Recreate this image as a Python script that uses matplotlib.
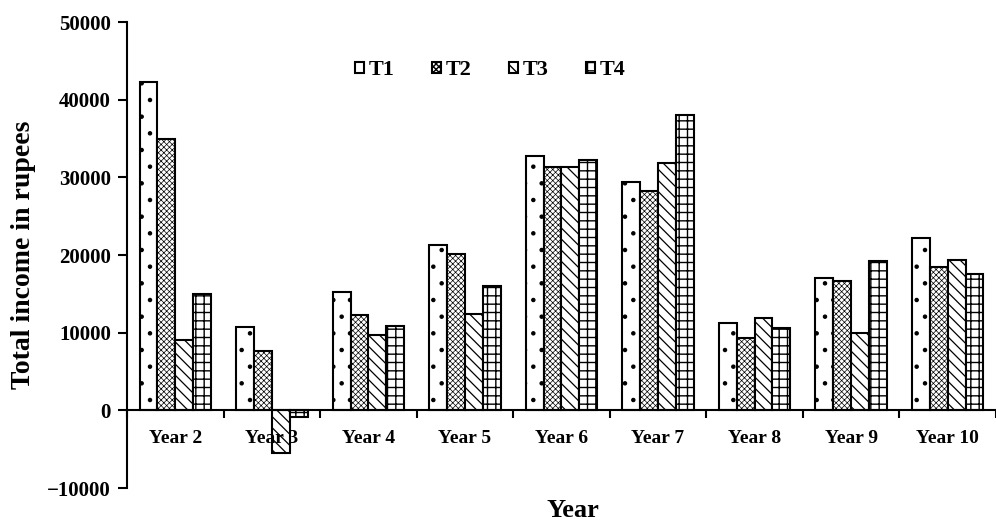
import matplotlib
matplotlib.use("Agg")
import matplotlib.pyplot as plt
import numpy as np

plt.rcParams['font.family'] = ['Liberation Serif', 'DejaVu Serif']
plt.rcParams['hatch.linewidth'] = 0.8

years = ["Year 2", "Year 3", "Year 4", "Year 5", "Year 6", "Year 7", "Year 8", "Year 9", "Year 10"]
t1 = [42300, 10800, 15200, 21300, 32800, 29400, 11200, 17000, 22200]
t2 = [35000, 7700, 12300, 20100, 31300, 28300, 9300, 16600, 18400]
t3 = [9000, -5500, 9700, 12400, 31400, 31800, 11900, 9900, 19400]
t4 = [15000, -800, 10900, 16000, 32300, 38000, 10600, 19300, 17600]
names = ["T1", "T2", "T3", "T4"]
hatches = ['.', 'xxxxxx', '\\\\\\', '++']
hatch_lw = [0.8, 0.5, 0.9, 1.0]

fig = plt.figure(figsize=(9.96, 5.27), dpi=100)
ax = fig.add_axes([0.1275, 0.074, 0.8725, 0.884])

x = np.arange(len(years))
w = 0.185
series = [t1, t2, t3, t4]
for i in range(4):
    plt.rcParams['hatch.linewidth'] = hatch_lw[i]
    bars = ax.bar(x + (i - 1.5) * w, series[i], w, color='white', edgecolor='black',
                  hatch=hatches[i], linewidth=1.5, label=names[i])
    for b in bars:
        if hasattr(b, 'set_hatch_linewidth'):
            b.set_hatch_linewidth(hatch_lw[i])

ax.set_xlim(-0.5, 8.5)
ax.set_ylim(-10000, 50000)
ax.set_yticks(range(-10000, 50001, 10000))
ax.set_yticklabels([("\u2212" + str(-v)) if v < 0 else str(v) for v in range(-10000, 50001, 10000)],
                   fontsize=15, fontweight='bold')

ax.spines['top'].set_visible(False)
ax.spines['right'].set_visible(False)
ax.spines['bottom'].set_position(('data', 0))
ax.spines['left'].set_linewidth(1.5)
ax.spines['bottom'].set_linewidth(1.5)

ax.set_xticks(np.arange(-0.5, 8.6, 1))
ax.set_xticklabels([])
ax.set_xticks(x, minor=True)
ax.set_xticklabels(years, minor=True, fontsize=14, fontweight='bold')
ax.tick_params(axis='x', which='minor', length=0, pad=14)
ax.tick_params(axis='x', which='major', length=6, width=1.5, direction='out')
ax.tick_params(axis='y', length=6.5, width=1.5, direction='out', pad=5)

ax.set_ylabel("Total income in rupees", fontsize=20, fontweight='bold', labelpad=8)
fig.text(0.575, 0.01, "Year", fontsize=19, fontweight='bold', ha='center', va='bottom')

ax.legend(loc='center', bbox_to_anchor=(0.418, 0.897), ncol=4, frameon=False,
          prop={'weight': 'bold', 'size': 16}, handlelength=0.4, handleheight=0.4,
          columnspacing=1.7, handletextpad=0.2)

fig.savefig("out.png", dpi=100)
